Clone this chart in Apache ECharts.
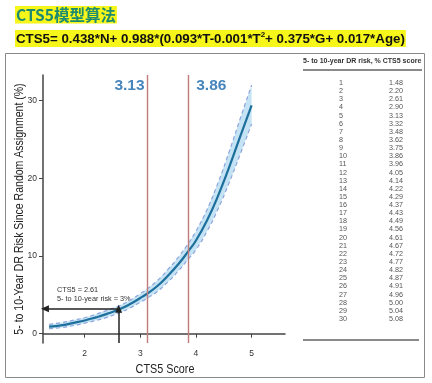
<!DOCTYPE html>
<html><head><meta charset="utf-8">
<script src="https://cdn.jsdelivr.net/npm/echarts@6/dist/echarts.min.js"></script>
<style>html,body{margin:0;padding:0;background:#fff;}#c{width:432px;height:383px;}</style>
</head><body><div id="c"></div>
<script>
// ---- data ----
var curveX    = [1.36,1.6,1.8,2.0,2.2,2.4,2.61,2.8,3.0,3.13,3.3,3.5,3.7,3.86,4.0,4.2,4.4,4.6,4.8,5.0];
var curveY    = [0.9,1.1,1.4,1.7,2.1,2.55,3.1,3.75,4.6,5.2,6.1,7.5,9.1,10.6,12.0,14.6,17.8,21.5,25.5,29.4];
var bandUpper = [1.2,1.45,1.75,2.05,2.5,3.0,3.55,4.25,5.15,5.8,6.8,8.3,10.0,11.6,13.2,16.0,19.5,23.5,27.8,32.0];
var bandLower = [0.65,0.8,1.05,1.35,1.7,2.1,2.65,3.25,4.05,4.6,5.4,6.7,8.2,9.6,10.8,13.2,16.1,19.5,23.2,27.0];
var cutoffs = [3.13, 3.86];
var exampleScore = 2.61, exampleRisk = 3.2;
var riskPct = [1,2,3,4,5,6,7,8,9,10,11,12,13,14,15,16,17,18,19,20,21,22,23,24,25,26,27,28,29,30];
var ctsScore = ['1.48','2.20','2.61','2.90','3.13','3.32','3.48','3.62','3.75','3.86','3.96','4.05','4.14','4.22','4.29','4.37','4.43','4.49','4.56','4.61','4.67','4.72','4.77','4.82','4.87','4.91','4.96','5.00','5.04','5.08'];
var xMin = 1.25, xMax = 5.6, yMin = -1.2, yMax = 33.3;

function pairs(xs, ys){ return xs.map(function(x,i){return [x, ys[i]];}); }

var chart = echarts.init(document.getElementById('c'), null, {renderer:'canvas'});
var sans = "'Liberation Sans',Arial,sans-serif";

var graphics = [
  {type:'rect', shape:{x:5.5,y:53.5,width:419,height:324}, style:{fill:null, stroke:'#8a8a8a', lineWidth:1}, z:0},
  {type:'text', left:15, top:6, style:{text:'CTS5模型算法', fill:'#1d8b6f', font:"bold 15.5px 'Noto Sans CJK SC','Liberation Sans',sans-serif", backgroundColor:'#f6f61a', padding:[1,1,1,1]}},
  {type:'text', left:15, top:30, style:{
     text:'{a|CTS5= 0.438*N+ 0.988*(0.093*T-0.001*T}{s|2}{a|+ 0.375*G+ 0.017*Age)}',
     backgroundColor:'#f6f61a', padding:[1,1,0,1],
     rich:{a:{font:"bold 13.3px "+sans, fill:'#111', lineHeight:16}, s:{font:"bold 8px "+sans, fill:'#111', verticalAlign:'top', lineHeight:16, padding:[0,0,6,0]}}
  }},
  {type:'text', left:303, top:58, style:{text:'5- to 10-year DR risk, % CTS5 score', font:"bold 7px "+sans, fill:'#333'}},
  {type:'rect', shape:{x:303,y:69,width:119,height:2}, style:{fill:'#8a8a8a'}},
  {type:'rect', shape:{x:303,y:339,width:116,height:2}, style:{fill:'#8a8a8a'}},
  {type:'text', left:57, top:285, style:{text:'CTS5 = 2.61\n5- to 10-year risk = 3%', font:"7.3px "+sans, fill:'#333', lineHeight:9.5}},
  // axis titles (condensed)
  {type:'text', x:19, y:209, rotation:Math.PI/2, scaleX:0.81,
    style:{text:'5- to 10-Year DR Risk Since Random Assignment (%)', font:"13px "+sans, fill:'#222', align:'center', verticalAlign:'middle'}},
  {type:'text', x:165, y:369, scaleX:0.8,
    style:{text:'CTS5 Score', font:"13.5px "+sans, fill:'#222', align:'center', verticalAlign:'middle'}}
];
riskPct.forEach(function(r,i){
  var y = 83 + i*8.14;
  graphics.push({type:'text', x:339, y:y, style:{text:String(r), font:"7.2px "+sans, fill:'#555', verticalAlign:'middle', align:'left'}});
  graphics.push({type:'text', x:389, y:y, style:{text:ctsScore[i], font:"7.2px "+sans, fill:'#555', verticalAlign:'middle', align:'left'}});
});

var option = {
  animation:false,
  backgroundColor:'#fff',
  grid:{left:43, top:75, right:147, bottom:40, containLabel:false},
  xAxis:{type:'value', min:xMin, max:xMax, splitNumber:4,
    axisLine:{lineStyle:{color:'#444', width:1.5}},
    axisTick:{show:true, length:4, lineStyle:{color:'#444'}},
    axisLabel:{color:'#333', fontSize:8.5, margin:6, showMinLabel:false, showMaxLabel:false, fontFamily:'Liberation Sans'},
    splitLine:{show:false}},
  yAxis:{type:'value', min:yMin, max:yMax, splitNumber:3,
    axisLine:{show:true, lineStyle:{color:'#444', width:1.5}},
    axisTick:{show:true, length:4, lineStyle:{color:'#444'}},
    axisLabel:{color:'#333', fontSize:8.5, margin:6, showMinLabel:false, showMaxLabel:false, fontFamily:'Liberation Sans'},
    splitLine:{show:false}},
  graphic:graphics,
  series:[
    {type:'custom', z:1, data:[[3,5]], silent:true,
      renderItem:function(params, api){
        var pts = [];
        for (var i=0;i<curveX.length;i++) pts.push(api.coord([curveX[i], bandUpper[i]]));
        for (var j=curveX.length-1;j>=0;j--) pts.push(api.coord([curveX[j], bandLower[j]]));
        return {type:'polygon', shape:{points:pts}, style:{fill:'#c4e3f4'}};
      }},
    {type:'line', z:2, data:pairs(curveX,bandUpper), smooth:true, symbol:'none',
      lineStyle:{color:'#8fa6da', width:1.2, type:[4,3]}},
    {type:'line', z:2, data:pairs(curveX,bandLower), smooth:true, symbol:'none',
      lineStyle:{color:'#8fa6da', width:1.2, type:[4,3]}},
    {type:'line', z:3, data:pairs(curveX,curveY), smooth:true, symbol:'none',
      lineStyle:{color:'#1d6f9c', width:2.2},
      markLine:{silent:true, symbol:['none','none'], label:{show:false},
        lineStyle:{color:'#c27b7b', width:1.4, type:'solid'},
        data:cutoffs.map(function(c){return {xAxis:c};})}},
    {type:'line', z:4, data:[], symbol:'none',
      markLine:{silent:true, symbol:['none','triangle'], symbolSize:[7,8], label:{show:false},
        lineStyle:{color:'#222', width:1.5, type:'solid'},
        data:[
          [{coord:[exampleScore, exampleRisk]},{coord:[1.285, exampleRisk]}],
          [{coord:[exampleScore, yMin]},{coord:[exampleScore, exampleRisk]}]
        ]}},
    {type:'scatter', z:5, symbolSize:0, silent:true,
      data:[{value:[cutoffs[0], 31.9], label:{position:'left', distance:3}},
            {value:[cutoffs[1], 31.9], label:{position:'right', distance:8}}],
      label:{show:true, formatter:function(p){return p.value[0].toFixed(2);},
        color:'#1767ab', fontSize:15.5, fontWeight:'bold', fontFamily:'Liberation Sans'}}
  ]
};
chart.setOption(option);
</script></body></html>
